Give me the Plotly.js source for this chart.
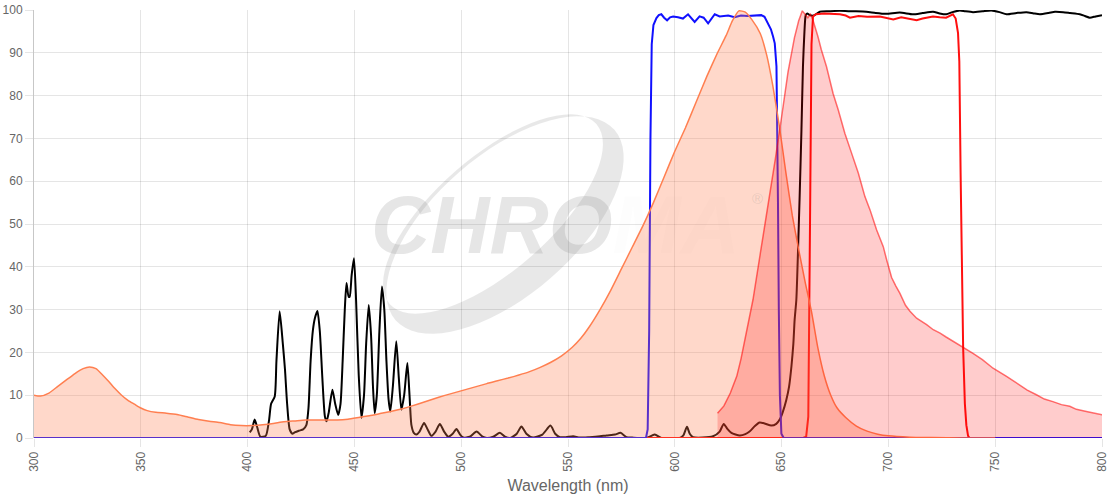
<!DOCTYPE html>
<html>
<head>
<meta charset="utf-8">
<script src="https://cdn.plot.ly/plotly-3.0.1.min.js"></script>
<style>html,body{margin:0;padding:0;background:#fff;}#chart{width:1120px;height:500px;}</style>
</head>
<body>
<div id="chart"></div>
<script>
// ---- Data ----
// Excitation spectrum (orange, filled)
const excWl = [300,303,307,311,315,319,323,326,329,332,335,338,341,344,347,350,353,357,362,367,372,377,382,387,392,397,402,407,412,417,422,427,432,437,442,447,452,457,462,467,472,477,482,487,492,497,502,507,512,517,522,527,532,537,542,547,552,556,560,565,570,575,580,585,590,595,600,605,610,615,620,624,627,630,633,636,640,643,646,649,652,655,658,661,664,667,670,673,676,680,685,690,695,700,710,720,735,750];
const excVal = [10,9.8,10.5,12,13.5,15,16.2,16.6,16.2,14.8,13.2,11.5,10,8.8,7.9,7.0,6.4,6.0,5.8,5.5,4.9,4.3,3.9,3.6,3.1,2.9,2.9,3.1,3.4,3.8,4.0,4.2,4.2,4.2,4.2,4.4,4.8,5.2,5.7,6.2,6.8,7.5,8.3,9.1,9.9,10.6,11.3,12.0,12.7,13.4,14.0,14.7,15.5,16.5,17.7,19.2,21.2,23.3,26.0,30,34.5,39.5,44.5,49.5,55,61,67,72.5,78.5,84.5,90,94,97.5,99.8,99.5,97.8,94.5,89.5,82,72.7,62,52,44,36.5,29.5,21,14.5,10,7,4.8,2.8,1.6,0.9,0.5,0.2,0.1,0,0];

// Emission spectrum (pink-red, filled)
const emWl = [620,623,626,629,631,633.5,636.6,640,644,647,650,653,656,658,659.7,661,662.3,663.5,664.7,667,668.6,671,674.1,676.5,679.6,682.8,685.9,689,691.4,694.5,697.6,699.2,701.5,703.5,705.4,708,710.1,713.2,717.9,721,724.2,727,730.4,735,739.6,744,749,755.3,761.5,765,769.3,773,777,781,784.9,788,792.7,796,800];
const emVal = [5.8,7.5,10.5,14.4,18.5,24.6,32.3,43,55,65,75,85.5,93.5,97.5,99.8,99,98.2,99,97.6,93.8,90.7,86.8,80.5,76.7,71.2,66.5,61.9,56.4,53.3,48.6,44.7,41.6,37.5,35.5,33.8,31,29.6,28,26.5,25.3,24.5,23.6,22.6,21.3,19.8,18.3,16.3,14.4,12.4,11.2,10.1,9.1,8.5,7.8,7.4,6.7,6.2,5.8,5.4];

// Excitation filter (blue line)
const exFiltWl = [300,586.5,587.3,588,588.6,589.2,590,591.4,592.5,593.7,595,596.4,597.8,599.2,601.5,603.8,606.2,609.3,611.6,613.5,615.6,618.7,621,625,628,631,634,637,640.5,642,643.6,645,646,646.8,647.6,648,648.3,648.7,649.2,649.9,651,800];
const exFiltVal = [0,0,2,25,70,92,96.5,98.1,98.8,99,98.2,97.6,98.3,98.5,98.3,98,99,97.2,98.5,98.2,96.9,99,98.5,98.7,98.3,98.7,98.6,98.7,98.8,98.4,97,95.5,93.8,92.2,86.8,72,55,30,10,1,0,0];

// Emission filter (red line)
const emFiltWl = [300,660,661.5,662.5,663.3,664,664.7,666,670,677.3,680,682,686,690,696,700,702.3,706,710,713.2,716,720.9,724,727,730.2,731.5,732.6,733.2,733.8,734.5,735,735.8,736.5,737.3,738,800];
const emFiltVal = [0,0,0.3,5,50,92,98.5,99,99.2,99,98.7,98.2,98.6,98.4,98.5,98.1,97.8,98.3,98,97.6,98,98.5,98.3,98.2,99,98,94.6,88,62,40,21,8,3,0.5,0,0];

// Dichroic mirror (black line)
const dichWl = [401,402,403.3,404.5,406,408.5,410,411,412.7,413.5,415,416.5,417.5,418.5,419.7,421,422,424,426,427.5,428.5,429.5,430.6,431.5,432.7,433.8,435,436.2,437,438,439.7,441,442.4,443.5,444.5,445.5,446.3,447.3,447.8,448.7,449.8,450.8,452,453.3,454.5,455.5,456.7,457.8,458.7,459.5,460.5,461.7,462.9,464,465,466,466.8,468,469.6,470.8,472,473.3,474.8,475.8,476.7,477.8,479,480.5,482.6,484.3,486,488,490,492,493.9,496,497.8,499.5,501,504,507.2,510,512,515,518.1,520.5,523,526,528.2,530.5,533.6,538,541.8,544,546.2,549,552.4,555.5,560,565,568,572,574.6,577.4,580,586.7,590.6,593.7,598,602.3,604,605.7,607,608.5,613,617.9,621,622.9,624.5,626.5,630.4,633,635,637.5,639.7,642,645.2,647.5,649.1,650.5,652.2,653.5,654.6,655.5,656.1,656.9,657.7,658.4,659.3,660,660.7,661.3,662,663.2,665,667.9,672,677.3,683,689.7,694,699,705.3,711.5,716,720.9,724,727.1,730,733.4,736,739.6,744,748.2,752,755.3,760,764.6,768,770.9,775,778,781.8,785,789.6,792,794.3,797,800];
const dichVal = [1.3,2,4.3,2.5,0.3,0.5,4,8,9.7,18,29.6,22,16,8,2,1,1.3,1.7,2,3,7,18,25.3,28,29.7,25,14,5,3.9,6,11.3,8,5.4,8,18,30,36.2,33,33,38,42,32,15,4.7,10,22,31.1,24,12,5.8,10,25,35.4,30,18,9,6.2,12,22.6,14,6.6,10,17.5,10,3,1.2,0.8,1.5,3.5,2,0.5,1.5,3.3,1.5,0.3,1,2.1,0.8,0.1,0.3,1.5,0.3,0,0.3,1.2,0.3,0,1,2.7,1,0.1,0.8,2.9,1,0.2,0.2,0.4,0.1,0.2,0.4,0.6,0.8,1.2,0.2,0.1,0,0.8,0,0,0,0.6,2.6,1,0.2,0.1,0.4,1.5,3.3,2.2,1.2,0.6,0.9,1.5,2.8,3.6,3.4,2.9,3.3,4.3,6,8.9,12,16.7,22,27.6,32.3,44,55.6,72,86.8,95,98.8,99.2,98.8,98.7,99.6,99.7,99.8,99.7,99.6,99.3,99.1,99.4,99,99.3,99.6,99.2,99,99.5,99.9,99.7,99.5,99.7,99.9,99.5,99,99.3,99.5,99.2,99,99.3,99.6,99.5,99.3,99,98.6,98.2,98.5,98.8];

// Axis ticks
const xTicks = [300,350,400,450,500,550,600,650,700,750,800];
const yTicks = [0,10,20,30,40,50,60,70,80,90,100];
const xTitle = 'Wavelength (nm)';

// ---- Traces: lines first, translucent fills on top ----
const traces = [
  {x: dichWl, y: dichVal, type:'scatter', mode:'lines',
   line:{color:'#000000', width:2, shape:'spline', smoothing:0.6}},
  {x: emFiltWl, y: emFiltVal, type:'scatter', mode:'lines',
   line:{color:'#ff1010', width:2}},
  {x: exFiltWl, y: exFiltVal, type:'scatter', mode:'lines',
   line:{color:'#1010ff', width:2}},
  {x: excWl, y: excVal, type:'scatter', mode:'lines', fill:'tozeroy',
   fillcolor:'rgba(255,127,80,0.3)', line:{color:'rgb(255,127,80)', width:1.5, shape:'spline', smoothing:0.5}},
  {x: emWl, y: emVal, type:'scatter', mode:'lines', fill:'tozeroy',
   fillcolor:'rgba(255,0,0,0.2)', line:{color:'rgba(255,0,0,0.55)', width:1.5}}
];

// ---- Watermark swoosh (decoration, in paper coordinates) ----
const L=34, R=1102, T=10, B=438;
function px2p(px,py){return [(px-L)/(R-L), (B-py)/(B-T)];}
function ellipsePath(cx,cy,a,b,angDeg,reverse){
  const th = angDeg*Math.PI/180, n=72; let pts=[];
  for(let i=0;i<=n;i++){
    const t = (reverse?-1:1)*2*Math.PI*i/n;
    const ex=a*Math.cos(t), ey=b*Math.sin(t);
    const px = cx + ex*Math.cos(th) - ey*Math.sin(th);
    const py = cy - (ex*Math.sin(th) + ey*Math.cos(th));
    const p = px2p(px,py); pts.push(p[0].toFixed(5)+','+p[1].toFixed(5));
  }
  return 'M'+pts.join(' L')+' Z';
}
const ring = ellipsePath(505,225,145,70,41,false)+' '+ellipsePath(493,214,137,57,41,true);

const fontFam = 'Liberation Sans, Arial, Helvetica, sans-serif';
const layout = {
  width:1120, height:500,
  margin:{l:34, r:18, t:10, b:62},
  paper_bgcolor:'#ffffff', plot_bgcolor:'#ffffff',
  showlegend:false,
  font:{family:fontFam, color:'#666666', size:12},
  xaxis:{range:[300,800], tickvals:xTicks, ticktext:xTicks.map(String), tickangle:-90,
    showgrid:true, gridcolor:'rgba(0,0,0,0.1)', gridwidth:1,
    ticks:'outside', ticklen:8, tickcolor:'rgba(0,0,0,0.1)',
    zeroline:false, showline:false,
    tickfont:{size:12, color:'#666666', family:fontFam},
    title:{text:xTitle, font:{size:16, color:'#666666', family:fontFam}, standoff:8}},
  yaxis:{range:[0,100], tickvals:yTicks, ticktext:yTicks.map(String),
    showgrid:true, gridcolor:'rgba(0,0,0,0.1)', gridwidth:1,
    ticks:'outside', ticklen:8, tickcolor:'rgba(0,0,0,0.1)',
    zeroline:false, showline:true, linecolor:'rgba(0,0,0,0.22)', linewidth:1,
    tickfont:{size:12, color:'#666666', family:fontFam}},
  shapes:[
    {type:'path', xref:'paper', yref:'paper', path:ring, layer:'below',
     fillcolor:'rgba(128,128,128,0.18)', line:{width:0}}
  ],
  annotations:[
    {xref:'paper', yref:'paper', x:0.4880, y:0.50, xanchor:'center', yanchor:'middle', showarrow:false,
     text:'<b><i>CHRO<span style="color:rgba(128,128,128,0.07)">MA</span></i></b>',
     font:{family:'Liberation Sans Narrow, Arial Narrow, Liberation Sans, Arial, sans-serif', size:82, color:'rgba(128,128,128,0.2)'}},
    {xref:'paper', yref:'paper', x:0.677, y:0.56, xanchor:'center', yanchor:'middle', showarrow:false,
     text:'®', font:{family:fontFam, size:15, color:'rgba(128,128,128,0.2)'}}
  ]
};

Plotly.newPlot('chart', traces, layout, {displayModeBar:false, staticPlot:true});
</script>
</body>
</html>
